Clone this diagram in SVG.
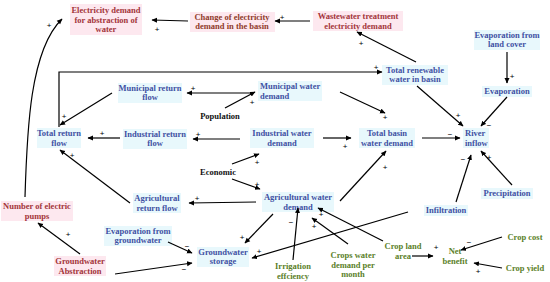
<svg xmlns="http://www.w3.org/2000/svg" width="550" height="282" viewBox="0 0 550 282">
<defs>
<marker id="ah" markerWidth="6" markerHeight="6" refX="5" refY="3" orient="auto" markerUnits="userSpaceOnUse">
<path d="M0,0.5 L5.5,3 L0,5.5 Z" fill="#000"/>
</marker>
<style>
text{font-family:"Liberation Serif","Times New Roman",serif;font-weight:bold;font-size:8.5px;text-anchor:middle}
.b{fill:#3f51a3}
.r{fill:#a3353a}
.br{fill:#8f3b2b}
.g{fill:#5b7f2a}
.k{fill:#111}
.bb{fill:#e8f8fc}
.pb{fill:#fde8ef}
.c line,.c path,.c polyline{stroke:#000;stroke-width:1.2;fill:none;marker-end:url(#ah)}
.s text{font-family:"Liberation Sans",Arial,sans-serif;font-weight:normal;font-size:8px;fill:#000}
</style>
</defs>
<rect width="550" height="282" fill="#fff"/>

<g id="elec_abs"><rect class="pb" x="70" y="4" width="72" height="31"/><text class="r" x="106"><tspan x="106" y="13">Electricity demand</tspan><tspan x="106" y="23">for abstraction of</tspan><tspan x="106" y="32">water</tspan></text></g>
<g id="change_elec"><rect class="pb" x="190" y="12" width="85" height="20"/><text class="br" x="232"><tspan x="232" y="20">Change of electricity</tspan><tspan x="232" y="29">demand in the basin</tspan></text></g>
<g id="wastewater"><rect class="pb" x="313" y="11" width="90" height="20"/><text class="r" x="358"><tspan x="358" y="19">Wastewater treatment</tspan><tspan x="358" y="29">electricity demand</tspan></text></g>
<g id="evap_land"><rect class="bb" x="474" y="30" width="66" height="20"/><text class="b" x="507"><tspan x="507" y="38">Evaporation from</tspan><tspan x="507" y="47">land cover</tspan></text></g>
<g id="evaporation"><rect class="bb" x="482" y="86" width="50" height="11"/><text class="b" x="507" y="94">Evaporation</text></g>
<g id="renewable"><rect class="bb" x="382" y="65" width="66" height="20"/><text class="b" x="415"><tspan x="415" y="73">Total renewable</tspan><tspan x="415" y="82">water in basin</tspan></text></g>
<g id="muni_ret"><rect class="bb" x="118" y="83" width="64" height="20"/><text class="b" x="150"><tspan x="150" y="91">Municipal return</tspan><tspan x="150" y="100">flow</tspan></text></g>
<g id="muni_dem"><rect class="bb" x="258" y="81" width="64" height="20"/><text class="b" style="text-anchor:start"><tspan x="260" y="89">Municipal water</tspan><tspan x="260" y="99">demand</tspan></text></g>
<g id="population"><text class="k" x="220" y="119">Population</text></g>
<g id="total_ret"><rect class="bb" x="37" y="128" width="44" height="20"/><text class="b" x="59"><tspan x="59" y="136">Total return</tspan><tspan x="59" y="146">flow</tspan></text></g>
<g id="ind_ret"><rect class="bb" x="123" y="129" width="64" height="20"/><text class="b" x="155"><tspan x="155" y="137">Industrial return</tspan><tspan x="155" y="146">flow</tspan></text></g>
<g id="ind_dem"><rect class="bb" x="250" y="128" width="64" height="20"/><text class="b" x="282"><tspan x="282" y="136">Industrial water</tspan><tspan x="282" y="146">demand</tspan></text></g>
<g id="basin"><rect class="bb" x="359" y="128" width="56" height="20"/><text class="b" x="387"><tspan x="387" y="136">Total basin</tspan><tspan x="387" y="146">water demand</tspan></text></g>
<g id="river"><rect class="bb" x="463" y="128" width="26" height="20"/><text class="b" style="text-anchor:start"><tspan x="465" y="136">River</tspan><tspan x="465" y="146">inflow</tspan></text></g>
<g id="economic"><text class="k" x="218" y="175">Economic</text></g>
<g id="agr_dem"><rect class="bb" x="262" y="192" width="72" height="20"/><text class="b" x="298"><tspan x="298" y="200">Agricultural water</tspan><tspan x="298" y="210">demand</tspan></text></g>
<g id="agr_ret"><rect class="bb" x="133" y="193" width="48" height="20"/><text class="b" x="157"><tspan x="157" y="201">Agricultural</tspan><tspan x="157" y="211">return flow</tspan></text></g>
<g id="precipitation"><rect class="bb" x="481" y="188" width="52" height="11"/><text class="b" x="507" y="196">Precipitation</text></g>
<g id="infiltration"><rect class="bb" x="424" y="205" width="44" height="11"/><text class="b" x="446" y="213">Infiltration</text></g>
<g id="pumps"><rect class="pb" x="1" y="201" width="72" height="20"/><text class="r" x="37"><tspan x="37" y="209">Number of electric</tspan><tspan x="37" y="219">pumps</tspan></text></g>
<g id="gw_abs"><rect class="pb" x="54" y="256" width="52" height="20"/><text class="r" x="80"><tspan x="80" y="264">Groundwater</tspan><tspan x="80" y="274">Abstraction</tspan></text></g>
<g id="evap_gw"><rect class="bb" x="104" y="226" width="68" height="20"/><text class="b" x="138"><tspan x="138" y="234">Evaporation from</tspan><tspan x="138" y="243">groundwater</tspan></text></g>
<g id="gw_storage"><rect class="bb" x="197" y="247" width="52" height="20"/><text class="b" x="223"><tspan x="223" y="255">Groundwater</tspan><tspan x="223" y="264">storage</tspan></text></g>
<g id="irrigation"><text class="g" x="293"><tspan x="293" y="269">Irrigation</tspan><tspan x="293" y="279">effciency</tspan></text></g>
<g id="crops_water"><text class="g" x="353"><tspan x="353" y="258">Crops water</tspan><tspan x="353" y="268">demand per</tspan><tspan x="353" y="277">month</tspan></text></g>
<g id="crop_land"><text class="g" x="403"><tspan x="403" y="249">Crop land</tspan><tspan x="403" y="259">area</tspan></text></g>
<g id="net_benefit"><text class="g" x="455"><tspan x="455" y="254">Net</tspan><tspan x="455" y="264">benefit</tspan></text></g>
<g id="crop_cost"><text class="g" x="525" y="240">Crop cost</text></g>
<g id="crop_yield"><text class="g" x="525" y="271">Crop yield</text></g>

<g id="connectors" class="c">
<line x1="188" y1="21" x2="152" y2="20"/>
<line x1="310" y1="21" x2="275" y2="21"/>
<line x1="416" y1="62" x2="357" y2="32"/>
<path d="M25,197 C27,130 30,50 62,19"/>
<line x1="80" y1="254" x2="38" y2="223"/>
<polyline points="59,127 59,72 382,72"/>
<line x1="112" y1="93" x2="60" y2="125"/>
<line x1="250" y1="93" x2="187" y2="93"/>
<line x1="225" y1="108" x2="255" y2="92"/>
<line x1="120" y1="138" x2="88" y2="138"/>
<line x1="240" y1="139" x2="193" y2="139"/>
<line x1="232" y1="164" x2="259" y2="154"/>
<line x1="232" y1="179" x2="260" y2="189"/>
<line x1="130" y1="203" x2="60" y2="150"/>
<line x1="256" y1="202" x2="189" y2="203"/>
<line x1="340" y1="92" x2="385" y2="113"/>
<line x1="417" y1="86" x2="463" y2="126"/>
<line x1="507" y1="52" x2="507" y2="83"/>
<line x1="507" y1="97" x2="481" y2="126"/>
<line x1="323" y1="138" x2="351" y2="138"/>
<line x1="422" y1="138" x2="460" y2="138"/>
<line x1="340" y1="201" x2="386" y2="151"/>
<line x1="456" y1="202" x2="471" y2="155"/>
<line x1="512" y1="185" x2="481" y2="151"/>
<line x1="408" y1="212" x2="252" y2="258"/>
<line x1="273" y1="214" x2="245" y2="243"/>
<line x1="293" y1="260" x2="298" y2="208"/>
<line x1="348" y1="244" x2="312" y2="218"/>
<line x1="383" y1="241" x2="318" y2="208"/>
<line x1="412" y1="256" x2="433" y2="256"/>
<line x1="502" y1="237" x2="461" y2="250"/>
<line x1="502" y1="268" x2="474" y2="263"/>
<line x1="168" y1="242" x2="192" y2="253"/>
<line x1="115" y1="274" x2="192" y2="263"/>
</g>

<g id="signs" class="s">
<text x="157" y="32">+</text>
<text x="282" y="20">+</text>
<text x="361" y="46">+</text>
<text x="49" y="28">+</text>
<text x="68" y="237">+</text>
<text x="376" y="70">+</text>
<text x="64" y="119">+</text>
<text x="193" y="91">+</text>
<text x="252" y="105">+</text>
<text x="102" y="136">+</text>
<text x="198" y="137">+</text>
<text x="257" y="165">+</text>
<text x="257" y="187">+</text>
<text x="72" y="158">+</text>
<text x="197" y="201">+</text>
<text x="385" y="120">+</text>
<text x="458" y="118">+</text>
<text x="512" y="79">+</text>
<text x="489" y="128">−</text>
<text x="345" y="149">+</text>
<text x="450" y="137">−</text>
<text x="385" y="170">+</text>
<text x="463" y="162">−</text>
<text x="489" y="160">+</text>
<text x="259" y="254">+</text>
<text x="242" y="240">+</text>
<text x="291" y="225">−</text>
<text x="314" y="229">+</text>
<text x="321" y="217">+</text>
<text x="436" y="250">+</text>
<text x="469" y="245">−</text>
<text x="478" y="274">+</text>
<text x="187" y="249">−</text>
<text x="184" y="272">−</text>
</g>
</svg>
